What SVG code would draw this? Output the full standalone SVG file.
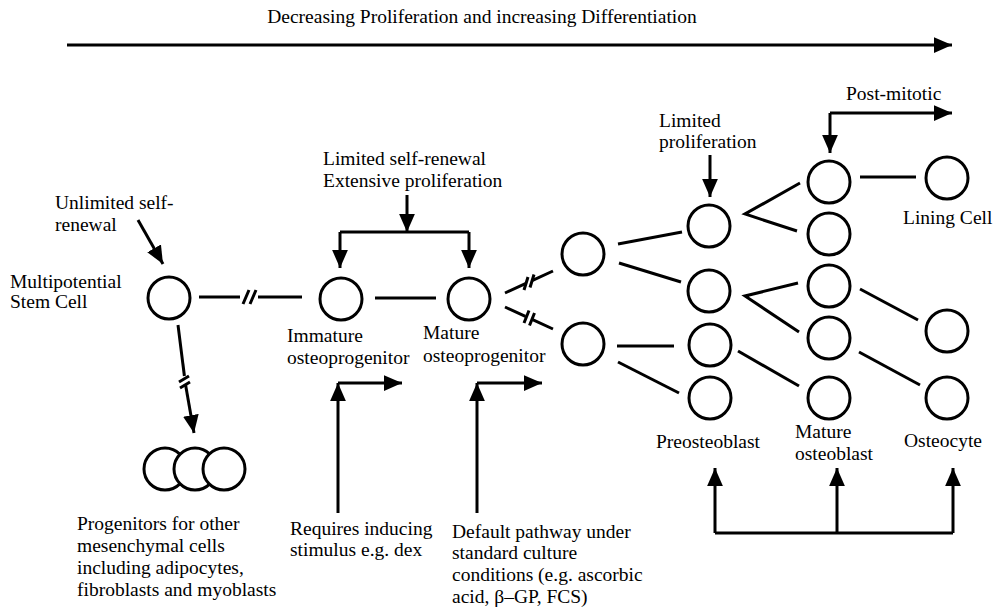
<svg xmlns="http://www.w3.org/2000/svg" width="999" height="610" viewBox="0 0 999 610">
<style>
text{font-family:"Liberation Serif","Times New Roman",serif;font-size:19.5px;fill:#000}
.cell{fill:#fff;stroke:#000;stroke-width:3}
.ln{fill:none;stroke:#000;stroke-width:3}
.ar{fill:none;stroke:#000;stroke-width:3;marker-end:url(#head)}
</style>
<defs>
<marker id="head" markerUnits="userSpaceOnUse" markerWidth="18" markerHeight="16" refX="16" refY="7" orient="auto" viewBox="0 0 16 14">
<path d="M0,0 L16,7 L0,14 z" fill="#000"/>
</marker>
</defs>
<rect width="999" height="610" fill="#fff"/>

<g id="title"><text x="482" y="23" text-anchor="middle">Decreasing Proliferation and increasing Differentiation</text></g>

<g id="stem-cell">
<circle class="cell" cx="169" cy="298" r="21"/>
<text x="10" y="288">Multipotential</text>
<text x="10" y="308">Stem Cell</text>
</g>
<g id="unlimited-label">
<text x="55" y="209">Unlimited self-</text>
<text x="55" y="231">renewal</text>
</g>
<g id="progenitors">
<circle class="cell" cx="165" cy="469" r="21"/>
<circle class="cell" cx="195" cy="469" r="21"/>
<circle class="cell" cx="224" cy="469" r="21"/>
<text x="77" y="530">Progenitors for other</text>
<text x="77" y="552">mesenchymal cells</text>
<text x="77" y="574">including adipocytes,</text>
<text x="77" y="596">fibroblasts and myoblasts</text>
</g>
<g id="self-renewal-label">
<text x="323" y="165">Limited self-renewal</text>
<text x="323" y="187">Extensive proliferation</text>
</g>
<g id="immature">
<circle class="cell" cx="341" cy="299" r="21"/>
<text x="287" y="342">Immature</text>
<text x="287" y="364">osteoprogenitor</text>
</g>
<g id="mature">
<circle class="cell" cx="469" cy="299" r="21"/>
<text x="423" y="339">Mature</text>
<text x="423" y="362">osteoprogenitor</text>
</g>
<g id="requires-label">
<text x="290" y="535">Requires inducing</text>
<text x="290" y="556">stimulus e.g. dex</text>
</g>
<g id="default-label">
<text x="452" y="538">Default pathway under</text>
<text x="452" y="559">standard culture</text>
<text x="452" y="581">conditions (e.g. ascorbic</text>
<text x="452" y="603">acid, β–GP, FCS)</text>
</g>
<g id="committed-a"><circle class="cell" cx="583" cy="254" r="21"/></g>
<g id="committed-b"><circle class="cell" cx="583" cy="344" r="21"/></g>
<g id="limited-prolif-label">
<text x="659" y="127">Limited</text>
<text x="659" y="148">proliferation</text>
</g>
<g id="preosteoblast">
<circle class="cell" cx="709" cy="226" r="21"/>
<circle class="cell" cx="709" cy="291" r="21"/>
<circle class="cell" cx="710" cy="345" r="21"/>
<circle class="cell" cx="710" cy="398" r="21"/>
<text x="656" y="448">Preosteoblast</text>
</g>
<g id="mature-osteoblast">
<circle class="cell" cx="829" cy="182" r="21"/>
<circle class="cell" cx="829" cy="234" r="21"/>
<circle class="cell" cx="829" cy="286" r="21"/>
<circle class="cell" cx="829" cy="338" r="21"/>
<circle class="cell" cx="829" cy="398" r="21"/>
<text x="795" y="438">Mature</text>
<text x="795" y="460">osteoblast</text>
</g>
<g id="post-mitotic-label"><text x="846" y="100">Post-mitotic</text></g>
<g id="lining-cell">
<circle class="cell" cx="947" cy="178" r="21"/>
<text x="903" y="224">Lining Cell</text>
</g>
<g id="osteocyte">
<circle class="cell" cx="947" cy="331" r="21"/>
<circle class="cell" cx="947" cy="398" r="21"/>
<text x="904" y="447">Osteocyte</text>
</g>

<g id="connectors">
<path class="ar" d="M67,45 H952"/>
<path class="ar" d="M138,220 L163,264"/>
<path class="ln" d="M178,325 L184.4,376"/>
<path class="ar" d="M185.6,385 L194,433"/>
<path class="ln" d="M179,382 L189,376 M180,388 L190,382"/>
<path class="ln" d="M199,297 H240 M258,297 H302"/>
<path class="ln" d="M243,304 L249,290 M250,304 L256,290"/>
<path class="ln" d="M375,298 H436"/>
<path class="ar" d="M407,195 V232"/>
<path class="ln" d="M340,232 H469"/>
<path class="ar" d="M340,232 V268"/>
<path class="ar" d="M469,232 V268"/>
<path class="ln" d="M505,293 L525.4,283.7 M532.6,280.3 L553,271"/>
<path class="ln" d="M524,290 L528,277 M530,287.5 L534,274.5"/>
<path class="ln" d="M505,307 L525.4,316.4 M532.6,319.7 L553,329"/>
<path class="ln" d="M524,323 L529,310.5 M529.5,325.5 L534.5,313"/>
<path class="ln" d="M618,244 L682,232"/>
<path class="ln" d="M619,263 L681,282"/>
<path class="ln" d="M617,346 L674,346"/>
<path class="ln" d="M618,362 L679,393"/>
<path class="ar" d="M710,155 V197"/>
<path class="ln" d="M800,183 L745,214 L797,231"/>
<path class="ln" d="M798,283 L745,296 L799,332"/>
<path class="ln" d="M738,351 L799,386"/>
<path class="ln" d="M860,177 H916"/>
<path class="ln" d="M860,289 L918,320"/>
<path class="ln" d="M859,352 L920,385"/>
<path class="ar" d="M830,113 H952"/>
<path class="ar" d="M830,113 V153"/>
<path class="ar" d="M338,513 V383"/>
<path class="ar" d="M338,383 H402"/>
<path class="ar" d="M477,513 V383"/>
<path class="ar" d="M477,383 H542"/>
<path class="ln" d="M715,533 H953"/>
<path class="ar" d="M715,533 V468"/>
<path class="ar" d="M837,533 V468"/>
<path class="ar" d="M953,533 V468"/>
</g>
</svg>
